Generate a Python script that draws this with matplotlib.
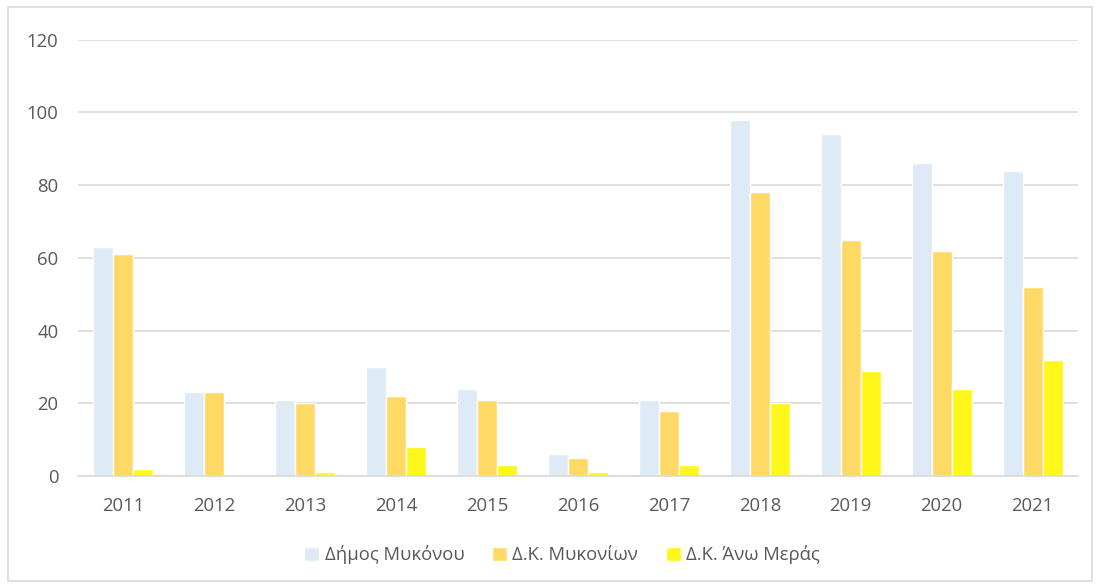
import numpy as np
import matplotlib.pyplot as plt
from matplotlib.patches import Rectangle

plt.rcParams["font.family"] = ["Open Sans", "DejaVu Sans"]

years = ["2011", "2012", "2013", "2014", "2015", "2016", "2017", "2018", "2019", "2020", "2021"]
dimos = [63, 23, 21, 30, 24, 6, 21, 98, 94, 86, 84]
mykonion = [61, 23, 20, 22, 21, 5, 18, 78, 65, 62, 52]
ano_meras = [2, 0, 1, 8, 3, 1, 3, 20, 29, 24, 32]

series = [
    ("Δήμος Μυκόνου", dimos, "#DEEAF6"),
    ("Δ.Κ. Μυκονίων", mykonion, "#FFD966"),
    ("Δ.Κ. Άνω Μεράς", ano_meras, "#FFF61A"),
]

fig = plt.figure(figsize=(11, 5.85), dpi=100)
ax = fig.add_axes([78 / 1100, 1 - 476 / 585, 1000 / 1100, (476 - 39.7) / 585])

x = np.arange(len(years))
w = 0.22
for i, (name, vals, col) in enumerate(series):
    ax.bar(x + (i - 1) * w, vals, width=w, color=col, edgecolor="white",
           linewidth=1.0, label=name, zorder=3)

ax.set_xlim(-0.5, len(years) - 0.5)
ax.set_ylim(0, 120)
ax.set_yticks(range(0, 121, 20))
ax.set_xticks(x)
ax.set_xticklabels(years)
ax.grid(axis="y", color="#D9D9D9", linewidth=1.2, zorder=0)
for s in ["top", "right", "left"]:
    ax.spines[s].set_visible(False)
ax.spines["bottom"].set_color("#D9D9D9")
ax.spines["bottom"].set_linewidth(1.2)
ax.spines["bottom"].set_zorder(5)
ax.tick_params(axis="both", length=0, labelsize=13.3, colors="#595959")
ax.tick_params(axis="y", pad=14)
ax.tick_params(axis="x", pad=15)

leg = fig.legend(loc="center", bbox_to_anchor=(562 / 1100, 1 - 555 / 585), ncol=3,
                 frameon=False, fontsize=13.3, handlelength=0.8, handleheight=0.8,
                 handletextpad=0.3, columnspacing=1.5)
for t in leg.get_texts():
    t.set_color("#595959")

fig.patches.append(Rectangle((8 / 1100, 4 / 585), 1084 / 1100, 574 / 585,
                             transform=fig.transFigure, fill=False,
                             edgecolor="#D9D9D9", linewidth=1.2))

fig.savefig("out.png", dpi=100)
